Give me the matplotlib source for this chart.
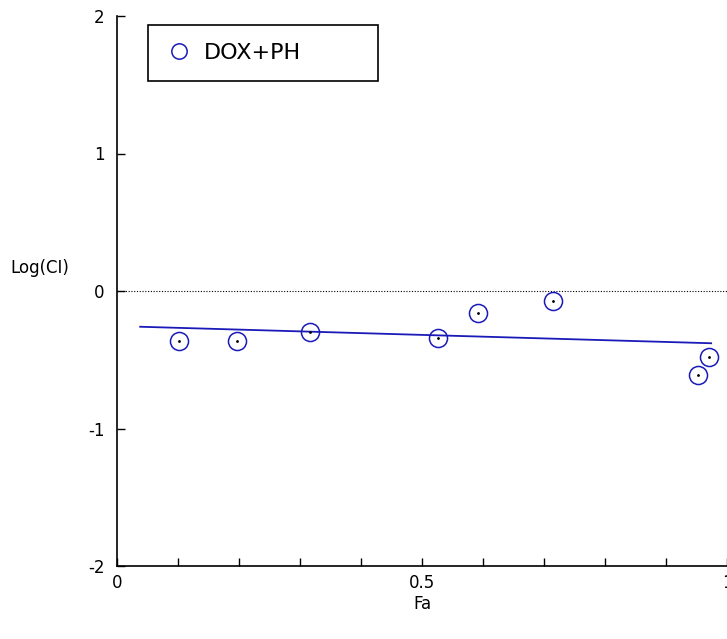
import matplotlib
matplotlib.use('Agg')
import matplotlib.pyplot as plt

plt.rcParams['axes.unicode_minus'] = False

# data
fa = [0.102, 0.197, 0.316, 0.526, 0.592, 0.715, 0.970, 0.952]
log_ci = [-0.36, -0.36, -0.30, -0.34, -0.16, -0.07, -0.48, -0.61]
fit_fa = [0.038, 0.974]
fit_log_ci = [-0.26, -0.38]

x_ticks = [0, 0.5, 1]
x_minor = [0.1, 0.2, 0.3, 0.4, 0.6, 0.7, 0.8, 0.9]
y_ticks = [-2, -1, 0, 1, 2]

blue = '#1a1ab8'

fig = plt.figure(figsize=(7.27, 6.39), dpi=100)
ax = fig.add_axes([117 / 727, 73 / 639, 610 / 727, 550 / 639])

ax.axhline(0, color='black', linestyle=(0, (1, 1.5)), linewidth=0.8)
ax.plot(fit_fa, fit_log_ci, color=blue, linewidth=1.3)
ax.plot(fa, log_ci, linestyle='none', marker='o', markersize=13,
        markerfacecolor='none', markeredgecolor=blue, markeredgewidth=1.1,
        label='DOX+PH')
ax.plot(fa, log_ci, linestyle='none', marker='.', markersize=2, color='black')

ax.set_xlim(0, 1)
ax.set_ylim(-2, 2)
ax.set_xticks(x_ticks)
ax.set_xticklabels(['0', '0.5', '1'])
ax.set_xticks(x_minor, minor=True)
ax.set_yticks(y_ticks)
ax.tick_params(axis='both', which='both', direction='in', length=6, width=1,
               labelsize=12, pad=6)
ax.tick_params(axis='y', pad=9)

for side in ['top', 'right']:
    ax.spines[side].set_visible(False)
for side in ['left', 'bottom']:
    ax.spines[side].set_linewidth(1.2)

ax.set_xlabel('Fa', fontsize=12, labelpad=2)
ax.text(-0.175, 0.1, 'Log(CI)', fontsize=12, ha='left', va='bottom',
        transform=ax.transData)

leg = ax.legend(loc='upper left', bbox_to_anchor=(0.051, 0.8836, 0.377, 0.1),
                mode='expand', fontsize=16, markerscale=0.85,
                fancybox=False, edgecolor='black', framealpha=1,
                handletextpad=0.5, borderpad=0.8, handlelength=1.2,
                borderaxespad=0)
leg.get_frame().set_linewidth(1.2)

fig.savefig('out.png', dpi=100)
